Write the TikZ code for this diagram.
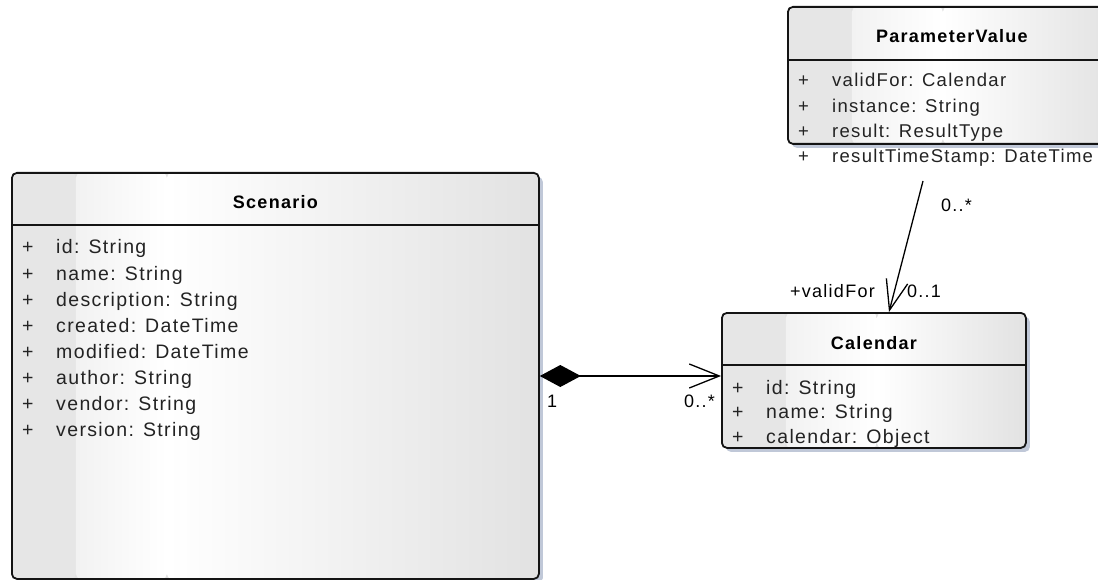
\documentclass[tikz,border=0pt]{standalone}
\usepackage{fontspec}
\setmainfont{Liberation Sans}[LetterSpace=7]
\usetikzlibrary{arrows.meta,shadows}
\definecolor{shadowc}{RGB}{192,200,216}
\definecolor{gleft}{RGB}{230,230,230}
\definecolor{gedge}{RGB}{242,242,242}
\definecolor{gright}{RGB}{226,226,226}
\definecolor{border}{RGB}{20,20,20}
\definecolor{txt}{RGB}{35,35,35}
\tikzset{
  umlbox/.style={draw=border, line width=1.8pt, rounded corners=5pt, anchor=north west,
    inner sep=0pt,
    drop shadow={shadow xshift=4pt, shadow yshift=-4pt, fill=shadowc, opacity=1},
    path picture={
      \fill[gright] (path picture bounding box.north west) rectangle (path picture bounding box.south east);
      \fill[gleft] (path picture bounding box.north west) rectangle ([xshift=64pt]path picture bounding box.south west);
      \shade[left color=gedge, right color=white] ([xshift=64pt]path picture bounding box.north west) rectangle ([xshift=155pt]path picture bounding box.south west);
      \shade[left color=white, right color=gright] ([xshift=155pt]path picture bounding box.north west) rectangle (path picture bounding box.south east);
    }},
  sepline/.style={draw=border, line width=1.6pt},
  titletext/.style={font=\fontsize{18pt}{22pt}\selectfont\bfseries, text=black, inner sep=0pt, anchor=base},
  attr/.style={font=\fontsize{19.5pt}{23pt}\selectfont, text=txt, inner sep=0pt, anchor=base west},
  attrsm/.style={attr, font=\fontsize{18.5pt}{22pt}\selectfont},
  lbl/.style={font=\fontsize{18pt}{22pt}\selectfont, text=black, inner sep=0pt},
  conn/.style={draw=black, line width=1.3pt},
}
\newcommand{\pl}[1]{\makebox[34pt][l]{+}#1}
\begin{document}
\begin{tikzpicture}[x=1pt, y=-1pt]
\useasboundingbox (0,0) rectangle (1098,580);

% Scenario
\node[umlbox, minimum width=527pt, minimum height=406pt] (scen) at (11,172) {};
\draw[sepline] ([yshift=-53pt]scen.north west) -- ([yshift=-53pt]scen.north east);
\node[titletext] (scent) at ([yshift=-37pt]scen.north) {Scenario};
\foreach \t [count=\i from 0] in {id: String, name: String, description: String, created: DateTime, modified: DateTime, author: String, vendor: String, version: String}{
  \node[attr] (scena\i) at ([xshift=11pt, yshift={-82pt-26pt*\i}]scen.north west) {\pl{\t}};
}

% ParameterValue
\node[umlbox, minimum width=328pt, minimum height=137pt] (pv) at (787,6) {};
\draw[sepline] ([yshift=-54pt]pv.north west) -- ([yshift=-54pt]pv.north east);
\node[titletext] (pvt) at ([yshift=-37pt]pv.north) {ParameterValue};
\foreach \t [count=\i from 0] in {validFor: Calendar, instance: String, result: ResultType, resultTimeStamp: DateTime}{
  \node[attrsm] (pva\i) at ([xshift=11pt, yshift={-81pt-25.2pt*\i}]pv.north west) {\pl{\t}};
}

% Calendar
\node[umlbox, minimum width=304pt, minimum height=135pt] (cal) at (721,312) {};
\draw[sepline] ([yshift=-53pt]cal.north west) -- ([yshift=-53pt]cal.north east);
\node[titletext] (calt) at ([yshift=-37pt]cal.north) {Calendar};
\foreach \t [count=\i from 0] in {id: String, name: String, calendar: Object}{
  \node[attr] (cala\i) at ([xshift=11pt, yshift={-82pt-24.6pt*\i}]cal.north west) {\pl{\t}};
}

% composition Scenario -> Calendar
\coordinate (midy) at (0,376);
\draw[conn, {Diamond[length=41pt,width=22pt]}-{Straight Barb[length=30pt,width=24pt]}] (scen.east |- midy) -- (cal.west |- midy);
\node[lbl, anchor=base west] (m1) at (547,407) {1};
\node[lbl, anchor=base east] (m2) at (715,407) {0..*};

% association ParameterValue -> Calendar
\coordinate (pvfoot) at (923,181);
\draw[conn, -{Straight Barb[length=30pt,width=22pt]}] (pvfoot) -- ([xshift=168pt]cal.north west);
\node[lbl, anchor=base west] (m3) at (941,212) {0..*};
\node[lbl, anchor=base east] (m4) at (875,297) {+validFor};
\node[lbl, anchor=base west] (m5) at (907,297) {0..1};
\end{tikzpicture}
\end{document}
